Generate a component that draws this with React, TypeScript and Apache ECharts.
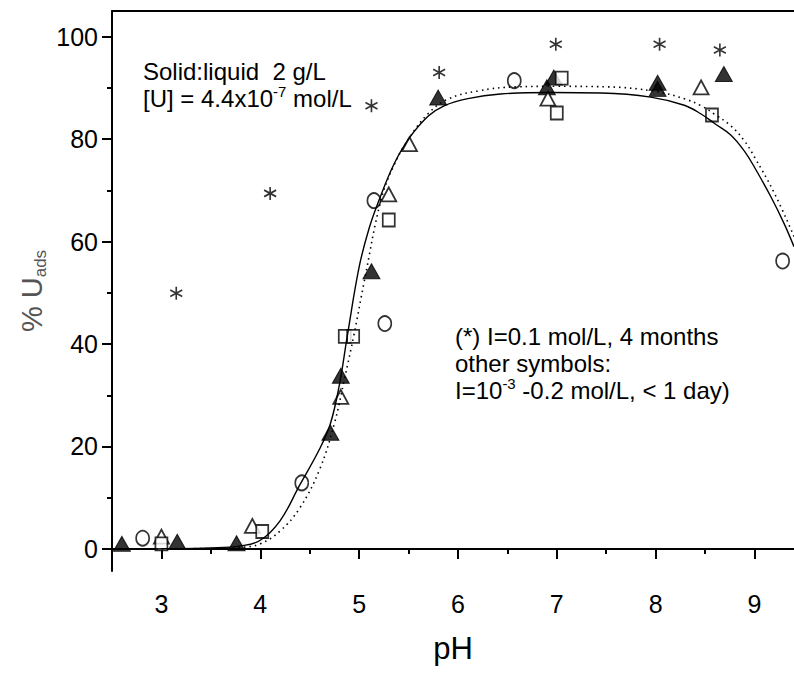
import React, { useEffect, useRef } from "react";
import * as echarts from "echarts";

const FONT = '"Liberation Sans", Arial, sans-serif';

// Axis ticks
const xTicks = [3, 4, 5, 6, 7, 8, 9];
const xMinorTicks = [3.5, 4.5, 5.5, 6.5, 7.5, 8.5];
const yTicks = [0, 20, 40, 60, 80, 100];
const yMinorTicks = [10, 30, 50, 70, 90];

// Data points [pH, %U_ads]
const starPts = [
  [3.15, 49.9], [4.10, 69.4], [5.125, 86.5], [5.81, 93.0], [6.99, 98.5], [8.04, 98.5], [8.65, 97.4],
];
const filledTriPts = [
  [2.6, 1.0], [3.16, 1.4], [3.76, 1.1], [4.71, 22.7], [4.815, 33.8], [5.125, 54.2], [5.80, 88.1],
  [6.97, 92.0], [6.90, 90.1], [8.02, 91.0], [8.02, 89.8], [8.69, 92.7],
];
const openTriPts = [
  [3.0, 2.4], [3.92, 4.5], [4.815, 29.7], [5.30, 69.2], [5.51, 79.0], [6.91, 87.9], [8.46, 90.1],
];
const squarePts = [
  [3.0, 1.0], [4.02, 3.4], [4.855, 41.5], [4.94, 41.5], [5.30, 64.2], [7.0, 85.1], [7.05, 91.9], [8.57, 84.7],
];
const circlePts = [
  [2.81, 2.1], [4.42, 12.9], [5.15, 68.0], [5.26, 44.0], [6.57, 91.4], [9.285, 56.2],
];

// Model curves
const solidCurve = [
  [2.5, 0], [3.0, 0.05], [3.5, 0.2], [3.8, 0.6], [4.0, 1.7], [4.2, 5.5], [4.4, 12.5], [4.6, 19.5],
  [4.71, 24.5], [4.8, 32], [4.88, 41.5], [5.0, 55], [5.1, 62.5], [5.2, 68], [5.35, 75], [5.5, 80],
  [5.7, 84.5], [5.86, 86.5], [6.1, 87.9], [6.43, 88.8], [6.94, 89.1], [7.45, 89.0], [7.95, 88.2],
  [8.29, 86.6], [8.46, 84.9], [8.6, 83.0], [8.76, 80.8], [8.9, 77.6], [9.0, 74.5], [9.17, 68.6],
  [9.3, 63.5], [9.4, 59.0],
];
const dottedCurve = [
  [2.5, 0], [3.0, 0.03], [3.5, 0.1], [3.8, 0.3], [4.0, 1.0], [4.2, 3.5], [4.4, 8.0], [4.6, 15.5],
  [4.75, 24.5], [4.85, 33], [4.95, 42], [5.05, 52], [5.22, 68], [5.35, 74.8], [5.5, 80], [5.7, 85],
  [5.9, 87.8], [6.2, 89.4], [6.6, 90.2], [7.0, 90.3], [7.5, 90.2], [8.0, 89.3], [8.3, 87.8],
  [8.46, 86.5], [8.6, 84.8], [8.76, 82.6], [8.9, 79.6], [9.0, 76.5], [9.2, 69.5], [9.4, 61.0],
];

const STAR_PATH = "path://M8.66,0L8.66,20M0,5L17.32,15M0,15L17.32,5";

export default function App() {
  const ref = useRef<HTMLDivElement>(null);

  useEffect(() => {
    const chart = echarts.init(ref.current!, null, { renderer: "svg" });
    const axisLineStyle = { color: "#000", width: 2 };
    const openStyle = { color: "#fff", borderColor: "#000", borderWidth: 1.8 };
    const option: any = {
      animation: false,
      backgroundColor: "#fff",
      grid: { left: 112, top: 11, right: 0, bottom: 107 },
      xAxis: [
        {
          type: "value",
          min: 2.5,
          max: 9.4,
          position: "bottom",
          axisLine: { show: true, lineStyle: axisLineStyle },
          axisTick: { show: true, customValues: xTicks, length: 10, lineStyle: axisLineStyle },
          axisLabel: { customValues: xTicks, fontSize: 25, color: "#000", fontFamily: FONT, margin: 20 },
          splitLine: { show: false },
          name: "pH",
          nameLocation: "middle",
          nameGap: 62,
          nameMoveOverlap: false,
          nameTextStyle: { fontSize: 31, color: "#000", fontFamily: FONT },
        },
        {
          type: "value",
          min: 2.5,
          max: 9.4,
          position: "bottom",
          axisLine: { show: false },
          axisTick: { show: true, customValues: xMinorTicks, length: 5, lineStyle: axisLineStyle },
          axisLabel: { show: false },
          splitLine: { show: false },
        },
        {
          type: "value",
          min: 2.5,
          max: 9.4,
          position: "top",
          axisLine: { show: true, lineStyle: axisLineStyle },
          axisTick: { show: false },
          axisLabel: { show: false },
          splitLine: { show: false },
        },
      ],
      yAxis: [
        {
          type: "value",
          min: -4.3,
          max: 105,
          position: "left",
          axisLine: { show: true, lineStyle: axisLineStyle },
          axisTick: { show: true, customValues: yTicks, length: 10, lineStyle: axisLineStyle },
          axisLabel: { customValues: yTicks, fontSize: 25, color: "#000", fontFamily: FONT, margin: 14 },
          splitLine: { show: false },
          name: "{a|% U}{b|ads}",
          nameLocation: "middle",
          nameRotate: 90,
          nameGap: 63,
          nameMoveOverlap: false,
          nameTextStyle: {
            color: "#555",
            fontFamily: FONT,
            rich: {
              a: { fontSize: 29, lineHeight: 34, color: "#555", fontFamily: FONT },
              b: { fontSize: 17, lineHeight: 17, verticalAlign: "bottom", color: "#555", fontFamily: FONT },
            },
          },
        },
        {
          type: "value",
          min: -4.3,
          max: 105,
          position: "left",
          axisLine: { show: false },
          axisTick: { show: true, customValues: yMinorTicks, length: 5, lineStyle: axisLineStyle },
          axisLabel: { show: false },
          splitLine: { show: false },
        },
      ],
      series: [
        {
          type: "scatter",
          symbol: "circle",
          symbolSize: [13, 15],
          itemStyle: openStyle,
          data: circlePts,
          z: 2,
        },
        {
          type: "scatter",
          symbol: "triangle",
          symbolSize: [17, 15],
          itemStyle: { color: "#000", borderColor: "#000", borderWidth: 1 },
          data: filledTriPts,
          z: 2,
        },
        {
          type: "scatter",
          symbol: "triangle",
          symbolSize: [15, 14],
          itemStyle: openStyle,
          data: openTriPts,
          z: 2,
        },
        {
          type: "scatter",
          symbol: "rect",
          symbolSize: [12, 13],
          itemStyle: openStyle,
          data: squarePts,
          z: 2,
        },
        {
          type: "scatter",
          symbol: STAR_PATH,
          symbolSize: [12, 13],
          itemStyle: { color: "#000", borderColor: "#000", borderWidth: 1.7 },
          data: starPts,
          z: 2,
        },
        {
          type: "line",
          data: solidCurve,
          smooth: 0.4,
          showSymbol: false,
          symbol: "none",
          lineStyle: { color: "#000", width: 1.4, type: "solid" },
          z: 3,
        },
        {
          type: "line",
          data: dottedCurve,
          smooth: 0.4,
          showSymbol: false,
          symbol: "none",
          lineStyle: { color: "#000", width: 1.6, type: [1.5, 4] },
          z: 3,
        },
      ],
      graphic: [
        {
          type: "text",
          x: 143,
          y: 57,
          style: {
            text: "Solid:liquid  2 g/L",
            fontSize: 24,
            fontFamily: FONT,
            fill: "#000",
            lineHeight: 28,
          },
        },
        {
          type: "text",
          x: 143,
          y: 84,
          style: {
            text: "[U] = 4.4x10{sup|-7} mol/L",
            fontSize: 24,
            fontFamily: FONT,
            fill: "#000",
            lineHeight: 28,
            rich: {
              sup: { fontSize: 15, lineHeight: 15, verticalAlign: "top", fontFamily: FONT, fill: "#000" },
            },
          },
        },
        {
          type: "text",
          x: 455,
          y: 322,
          style: {
            text: "(*) I=0.1 mol/L, 4 months",
            fontSize: 24,
            fontFamily: FONT,
            fill: "#000",
            lineHeight: 28,
          },
        },
        {
          type: "text",
          x: 455,
          y: 349,
          style: {
            text: "other symbols:",
            fontSize: 24,
            fontFamily: FONT,
            fill: "#000",
            lineHeight: 28,
          },
        },
        {
          type: "text",
          x: 455,
          y: 376,
          style: {
            text: "I=10{sup|-3} -0.2 mol/L, < 1 day)",
            fontSize: 24,
            fontFamily: FONT,
            fill: "#000",
            lineHeight: 28,
            rich: {
              sup: { fontSize: 15, lineHeight: 15, verticalAlign: "top", fontFamily: FONT, fill: "#000" },
            },
          },
        },
      ],
    };
    chart.setOption(option);
    return () => chart.dispose();
  }, []);

  return (
    <div
      ref={ref}
      style={{ position: "fixed", left: 0, top: 0, width: 794, height: 678, background: "#fff" }}
    />
  );
}
